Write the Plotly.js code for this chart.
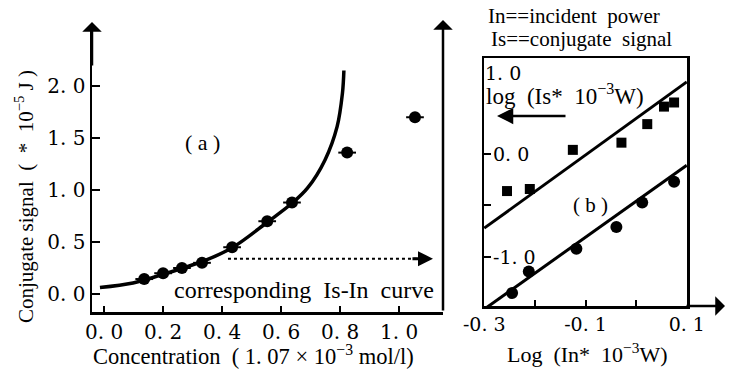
<!DOCTYPE html>
<html><head><meta charset="utf-8">
<script src="https://cdn.plot.ly/plotly-3.0.1.min.js"></script>
<style>html,body{margin:0;padding:0;background:#fff}#c{width:736px;height:369px}</style>
</head><body><div id="c"></div><script>
const W = 736, H = 369;
// Panel (a): conjugate signal vs concentration
const concX = [0.136, 0.200, 0.264, 0.332, 0.434, 0.553, 0.637, 0.824, 1.054];
const concY = [0.144, 0.200, 0.250, 0.300, 0.450, 0.700, 0.880, 1.360, 1.700];
const fitX = [-0.014, 0.098, 0.190, 0.268, 0.349, 0.437, 0.553, 0.640, 0.690, 0.749, 0.790, 0.808, 0.813];
const fitY = [0.062, 0.106, 0.180, 0.250, 0.330, 0.450, 0.690, 0.880, 1.020, 1.290, 1.610, 1.930, 2.150];
const refX = [0.42, 1.06];
const refY = [0.34, 0.34];
const refArrowX = [1.115];
// Panel (b): log-log
const logInSq = [-0.255, -0.210, -0.125, -0.029, 0.022, 0.055, 0.075];
const logIsSq = [-0.36, -0.34, 0.04, 0.11, 0.29, 0.46, 0.50];
const logInCi = [-0.245, -0.212, -0.118, -0.039, 0.012, 0.075];
const logIsCi = [-1.35, -1.14, -0.92, -0.71, -0.47, -0.27];
const lineUpX = [-0.3, 0.1], lineUpY = [-0.72, 0.70];
const lineLoX = [-0.298, 0.1], lineLoY = [-1.50, -0.11];
// Ticks
const yTicksA = [0, 0.5, 1.0, 1.5, 2.0];
const yTextA = ['0. 0', '0. 5', '1. 0', '1. 5', '2. 0'];
const xTicksA = [0, 0.2, 0.4, 0.6, 0.8, 1.0];
const xTextA = ['0. 0', '0. 2', '0. 4', '0. 6', '0. 8', '1. 0'];
const xTicksB = [-0.3, -0.2, -0.1, 0.0, 0.1];
const xTextB = ['-0. 3', '', '-0. 1', '', '0. 1'];
const yTicksB = [0.0, -0.5, -1.0];
const yTextB = ['0. 0', '', '-1. 0'];

const F = 'Liberation Serif, Times New Roman, serif';
const FD = 'DejaVu Serif, serif';
const S = '\u00a0';
const px = v => v / W, py = v => 1 - v / H;

const traces = [
  {x: fitX, y: fitY, mode: 'lines', line: {color: '#000', width: 3.5, shape: 'spline', smoothing: 1}, xaxis: 'x', yaxis: 'y', hoverinfo: 'skip'},
  {x: concX, y: concY, mode: 'markers', marker: {color: '#000', size: 12},
   error_x: {type: 'constant', value: 0.03, thickness: 2, width: 0, color: '#000'}, xaxis: 'x', yaxis: 'y'},
  {x: refX, y: refY, mode: 'lines', line: {color: '#000', width: 2, dash: 'dot'}, xaxis: 'x', yaxis: 'y'},
  {x: lineUpX, y: lineUpY, mode: 'lines', line: {color: '#000', width: 3}, xaxis: 'x2', yaxis: 'y2'},
  {x: lineLoX, y: lineLoY, mode: 'lines', line: {color: '#000', width: 3}, xaxis: 'x2', yaxis: 'y2'},
  {x: logInSq, y: logIsSq, mode: 'markers', marker: {color: '#000', size: 10, symbol: 'square'}, xaxis: 'x2', yaxis: 'y2'},
  {x: logInCi, y: logIsCi, mode: 'markers', marker: {color: '#000', size: 12}, xaxis: 'x2', yaxis: 'y2'}
];

const axBase = {showgrid: false, zeroline: false, showline: true, linecolor: '#000', linewidth: 2.5,
  ticks: 'inside', tickcolor: '#000', tickwidth: 2, fixedrange: true, tickmode: 'array'};

function txt(x, y, text, size, extra) {
  return Object.assign({xref: 'paper', yref: 'paper', x: px(x), y: py(y), text: text, showarrow: false,
    xanchor: 'center', yanchor: 'middle', font: {size: size, family: F, color: '#000'}}, extra || {});
}
function arrow(x, y, ax, ay, head, w) {
  return {xref: 'paper', yref: 'paper', x: px(x), y: py(y), ax: ax, ay: ay, text: '', showarrow: true,
    arrowhead: head, arrowsize: 1.3, arrowwidth: w, arrowcolor: '#000'};
}

// inside tick labels of the right-panel y axis, placed from the tick arrays
const yLabelsB = yTicksB.map((v, i) => ({xref: 'x2', yref: 'y2', x: xTicksB[0], y: v, xshift: 7,
  text: yTextB[i], showarrow: false, xanchor: 'left', yanchor: 'middle', font: {size: 19, family: FD, color: '#000'}}))
  .filter(a => a.text !== '');

const layout = {
  width: W, height: H, margin: {l: 0, r: 0, t: 0, b: 0}, showlegend: false,
  paper_bgcolor: '#fff', plot_bgcolor: 'rgba(0,0,0,0)',
  font: {family: F, color: '#000'},
  xaxis: Object.assign({}, axBase, {domain: [px(92), px(443)], range: [-0.041, 1.149], tickvals: xTicksA, ticktext: xTextA, ticklen: 6, tickfont: {size: 20, family: FD}}),
  yaxis: Object.assign({}, axBase, {domain: [py(312), py(24)], range: [-0.173, 2.597], tickvals: yTicksA, ticktext: yTextA, ticklen: 8, tickfont: {size: 20, family: FD}}),
  xaxis2: Object.assign({}, axBase, {anchor: 'y2', domain: [px(484), px(687)], range: [-0.3005, 0.1005], mirror: true, tickvals: xTicksB, ticktext: xTextB, ticklen: 6, tickfont: {size: 19, family: FD}}),
  yaxis2: Object.assign({}, axBase, {anchor: 'x2', domain: [py(306), py(58)], range: [-1.476, 0.932], mirror: true, tickvals: yTicksB, ticktext: yTextB, ticklen: 7, showticklabels: false}),
  annotations: [
    arrow(92, 22, 0, 45, 1, 2.5),
    arrow(443, 20, 0, 292, 1, 2.5),
    arrow(725, 306, -40, 0, 1, 2.5),
    {xref: 'x', yref: 'y', x: refArrowX[0], y: refY[1], ax: -22, ay: 0, text: '', showarrow: true, arrowhead: 2, arrowsize: 1, arrowwidth: 3, arrowcolor: '#000'},
    arrow(497, 116, 70, 0, 2, 2.5),
    txt(24, 197, 'Conjugate signal' + S + S + '(' + S + S + '*' + S + S + '10<sup>−5</sup>' + S + 'J' + S + ')', 21, {textangle: -90}),
    txt(253, 354.5, 'Concentration' + S + S + '(' + S + '1. 07' + S + '×' + S + '10<sup>−3</sup>' + S + 'mol/l)', 22.5),
    txt(587, 353, 'Log' + S + S + '(In*' + S + S + '10<sup>−3</sup>W)', 22),
    txt(574, 16, 'In==incident' + S + S + 'power', 21),
    txt(581, 39, 'Is==conjugate' + S + S + 'signal', 21),
    txt(202, 142, '(' + S + 'a' + S + ')', 22),
    txt(304, 290, 'corresponding' + S + S + 'Is-In' + S + S + 'curve', 24),
    txt(590, 205, '(' + S + 'b' + S + ')', 21),
    txt(483, 73, '1. 0', 19, {xanchor: 'left', font: {size: 19, family: FD, color: '#000'}}),
    txt(484, 95, 'log' + S + S + '(Is*' + S + S + '10<sup>−3</sup>W)', 23, {xanchor: 'left'})
  ].concat(yLabelsB)
};
Plotly.newPlot('c', traces, layout, {staticPlot: true, displayModeBar: false});
</script></body></html>
